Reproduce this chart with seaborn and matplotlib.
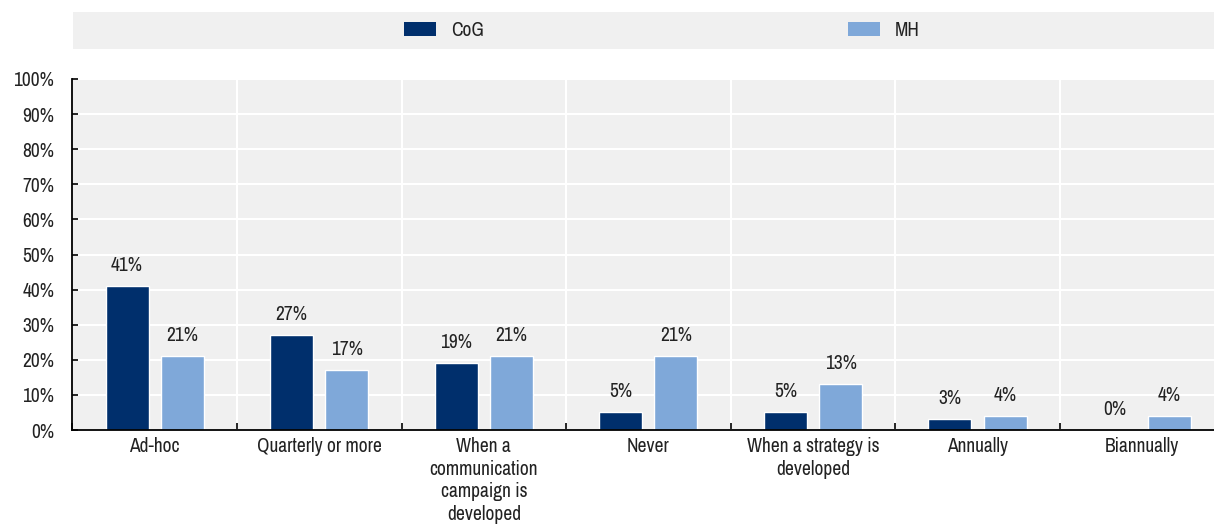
import matplotlib
matplotlib.use("Agg")
import matplotlib.pyplot as plt
from matplotlib.patches import Patch
from matplotlib.ticker import FixedLocator, PercentFormatter
import seaborn as sns
import pandas as pd

categories = [
    "Ad-hoc",
    "Quarterly or more",
    "When a\ncommunication\ncampaign is\ndeveloped",
    "Never",
    "When a strategy is\ndeveloped",
    "Annually",
    "Biannually",
]
cog = [41, 27, 19, 5, 5, 3, 0]
mh = [21, 17, 21, 21, 13, 4, 4]
series_names = ["CoG", "MH"]
colors = {"CoG": "#002F6C", "MH": "#7FA8D9"}

sns.set_theme(style="white")
plt.rcParams["font.family"] = ["Archivo Narrow", "DejaVu Sans"]
FS = 14
TXT = "#222222"

df = pd.DataFrame({
    "category": categories * 2,
    "series": [series_names[0]] * len(categories) + [series_names[1]] * len(categories),
    "value": cog + mh,
})

fig = plt.figure(figsize=(12.14, 5.26), dpi=100)
fig.patch.set_facecolor("white")

# main plot area (runs past the right edge, like the clipped last column)
ax = fig.add_axes([72.4 / 1214, 1 - 430 / 526, 1152 / 1214, 351 / 526])
ax.set_facecolor("#F0F0F0")

sns.barplot(
    data=df, x="category", y="value", hue="series", order=categories,
    hue_order=series_names, palette=colors, width=0.67, gap=0.22,
    saturation=1, ax=ax, legend=False, errorbar=None,
)

ax.set_xlim(-0.5, 6.5)
ax.set_ylim(0, 100)
ax.set_yticks(range(0, 101, 10))
ax.yaxis.set_major_formatter(PercentFormatter(decimals=0))
ax.set_xlabel("")
ax.set_ylabel("")

# white grid: horizontal at each 10%, vertical at category boundaries
boundaries = [i + 0.5 for i in range(-1, len(categories))]
ax.xaxis.set_minor_locator(FixedLocator(boundaries))
ax.grid(True, axis="y", which="major", color="white", linewidth=1.5)
ax.grid(True, axis="x", which="minor", color="white", linewidth=1.5)
ax.grid(False, axis="x", which="major")
ax.set_axisbelow(True)

for side in ["top", "right"]:
    ax.spines[side].set_visible(False)
for side in ["left", "bottom"]:
    ax.spines[side].set_color("black")
    ax.spines[side].set_linewidth(1.3)

ax.tick_params(axis="y", which="major", direction="in", length=4, width=1.2,
               color="black", left=True, pad=13, labelsize=FS, labelcolor=TXT)
ax.tick_params(axis="x", which="major", length=0, pad=5, labelsize=FS,
               labelcolor=TXT)
ax.tick_params(axis="x", which="minor", direction="in", length=5, width=1.2,
               color="black", bottom=True)
for lbl in ax.get_xticklabels():
    lbl.set_linespacing(1.25)

# value labels above each bar
for container in ax.containers:
    ax.bar_label(container, labels=[f"{v:.0f}%" for v in container.datavalues],
                 padding=8, fontsize=FS, color=TXT)

# legend band
lax = fig.add_axes([73 / 1214, 1 - 49 / 526, 1 - 73 / 1214, 37 / 526])
lax.set_facecolor("#F0F0F0")
lax.set_xticks([])
lax.set_yticks([])
for s in lax.spines.values():
    s.set_visible(False)
handles = [Patch(facecolor=colors[n], edgecolor="none", label=n) for n in series_names]
lax.legend(handles=handles, loc="center", ncol=2, frameon=False,
           fontsize=FS, handlelength=1.65, handleheight=0.77,
           handletextpad=0.77, columnspacing=18.7, labelcolor=TXT,
           bbox_to_anchor=(0.516, 0.5))

fig.savefig("out.png", dpi=100)
